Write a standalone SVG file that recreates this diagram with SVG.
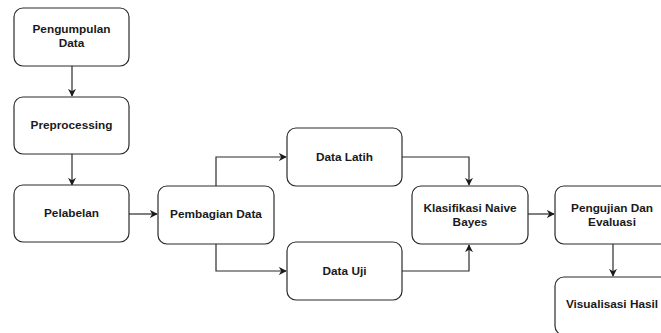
<svg xmlns="http://www.w3.org/2000/svg" width="661" height="333" viewBox="0 0 661 333">
<defs>
<style>
.box{fill:#fff;stroke:#2b2b2b;stroke-width:1.2}
.t{font-family:"Liberation Sans",Arial,sans-serif;font-weight:bold;font-size:11.8px;fill:#1a1a1a;text-anchor:middle}
.c{fill:none;stroke:#2b2b2b;stroke-width:1.2}
</style>
<marker id="ah" viewBox="0 0 10 10" refX="9" refY="5" markerWidth="8" markerHeight="8" markerUnits="userSpaceOnUse" orient="auto">
<path d="M0,0 L10,5 L0,10 L3,5 Z" fill="#1a1a1a"/>
</marker>
</defs>
<rect width="661" height="333" fill="#fff"/>
<g id="connectors">
<path class="c" d="M72,66 V96" marker-end="url(#ah)"/>
<path class="c" d="M72,154 V185" marker-end="url(#ah)"/>
<path class="c" d="M129,214 H157" marker-end="url(#ah)"/>
<path class="c" d="M216,186 V157 H286" marker-end="url(#ah)"/>
<path class="c" d="M216,244 V271 H286" marker-end="url(#ah)"/>
<path class="c" d="M402,157 H469 V185" marker-end="url(#ah)"/>
<path class="c" d="M402,271 H469 V245" marker-end="url(#ah)"/>
<path class="c" d="M528,214 H554" marker-end="url(#ah)"/>
<path class="c" d="M613,244 V276" marker-end="url(#ah)"/>
</g>
<g id="n1"><rect class="box" x="14" y="8" width="115" height="58" rx="9"/><text class="t" x="71.5" y="33">Pengumpulan</text><text class="t" x="71.5" y="47">Data</text></g>
<g id="n2"><rect class="box" x="14" y="97" width="115" height="57" rx="9"/><text class="t" x="71.5" y="129">Preprocessing</text></g>
<g id="n3"><rect class="box" x="14" y="185" width="115" height="57" rx="9"/><text class="t" x="71.5" y="217">Pelabelan</text></g>
<g id="n4"><rect class="box" x="158" y="186" width="116" height="58" rx="9"/><text class="t" x="216" y="218">Pembagian Data</text></g>
<g id="n5"><rect class="box" x="287" y="128" width="115" height="58" rx="9"/><text class="t" x="344.5" y="161">Data Latih</text></g>
<g id="n6"><rect class="box" x="287" y="242" width="115" height="58" rx="9"/><text class="t" x="344.5" y="275">Data Uji</text></g>
<g id="n7"><rect class="box" x="412" y="186" width="116" height="58" rx="9"/><text class="t" x="470" y="212">Klasifikasi Naive</text><text class="t" x="470" y="226">Bayes</text></g>
<g id="n8"><rect class="box" x="555" y="186" width="115" height="58" rx="9"/><text class="t" x="612" y="212">Pengujian Dan</text><text class="t" x="612" y="226">Evaluasi</text></g>
<g id="n9"><rect class="box" x="555" y="277" width="115" height="58" rx="9"/><text class="t" x="612" y="308">Visualisasi Hasil</text></g>
</svg>
